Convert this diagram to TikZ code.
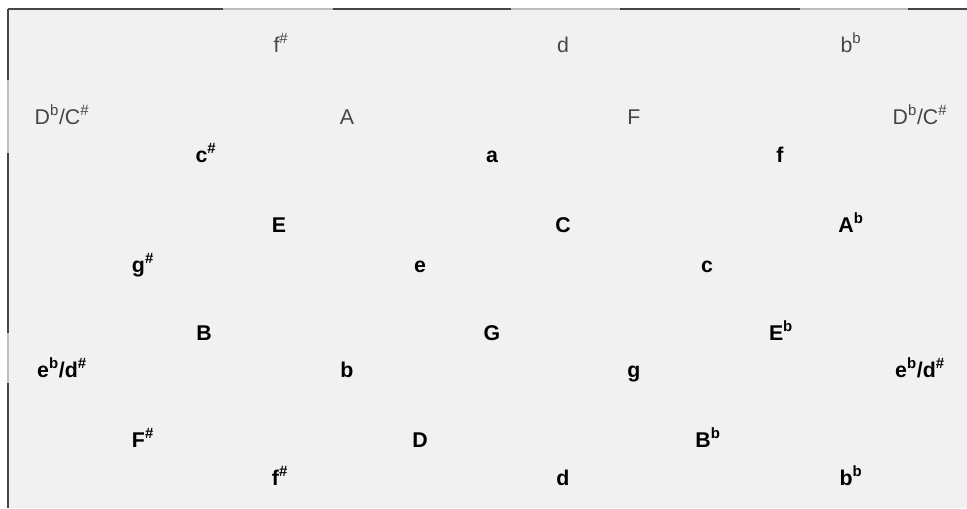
\documentclass[tikz,border=0pt]{standalone}
\usepackage{fontspec}
\setmainfont{Liberation Sans}
\usepackage{xcolor}
\usetikzlibrary{positioning}
\definecolor{panelgray}{RGB}{241,241,241}
\definecolor{edgedark}{RGB}{70,70,70}
\definecolor{edgelight}{RGB}{190,190,190}
\definecolor{fadedtext}{RGB}{70,70,70}

\newcommand{\fl}[1]{#1\textsuperscript{b}}
\newcommand{\sh}[1]{#1\textsuperscript{\#}}

\begin{document}
\begin{tikzpicture}[
  x=0.75pt, y=-0.75pt,
  faded/.style={anchor=base, inner sep=0pt, text=fadedtext, font=\fontsize{16}{18}\selectfont},
  chord/.style={anchor=base, inner sep=0pt, text=black, font=\fontsize{16}{18}\selectfont\bfseries},
  darkedge/.style={edgedark, line width=1.5pt},
  lightedge/.style={edgelight, line width=1pt}
]

% Panel
\useasboundingbox (0,0) rectangle (967,508);
\fill[white] (0,0) rectangle (967,508);
\fill[panelgray] (8,9) rectangle (967,508);

% Frame (top and left only)
\draw[darkedge] (8,9) -- (223,9);
\draw[lightedge] (223,9) -- (333,9);
\draw[darkedge] (333,9) -- (511,9);
\draw[lightedge] (511,9) -- (620,9);
\draw[darkedge] (620,9) -- (800,9);
\draw[lightedge] (800,9) -- (908,9);
\draw[darkedge] (908,9) -- (967,9);
\draw[darkedge] (8,9) -- (8,80);
\draw[lightedge] (8,80) -- (8,153);
\draw[darkedge] (8,153) -- (8,333);
\draw[lightedge] (8,333) -- (8,383);
\draw[darkedge] (8,383) -- (8,508);

% Repeated rows (faded)
\node[faded] (fs0) at (281,52) {\sh{f}};
\node[faded] (d0) at (563,52) {d};
\node[faded] (bb0) at (851,52) {\fl{b}};
\node[faded] (dbL) at (62,124) {\fl{D}/\sh{C}};
\node[faded] (A0) at (347,124) {A};
\node[faded] (F0) at (634,124) {F};
\node[faded] (dbR) at (920,124) {\fl{D}/\sh{C}};

% Row 1
\node[chord] (cs) at (206,162) {\sh{c}};
\node[chord] (a) at (492,162) {a};
\node[chord] (f) at (780,162) {f};

% Row 2
\node[chord] (E) at (279,232) {E};
\node[chord] (C) at (563,232) {C};
\node[chord] (Ab) at (851,232) {\fl{A}};

% Row 3
\node[chord] (gs) at (143,272) {\sh{g}};
\node[chord] (e) at (420,272) {e};
\node[chord] (c) at (707,272) {c};

% Row 4
\node[chord] (B) at (204,340) {B};
\node[chord] (G) at (492,340) {G};
\node[chord] (Eb) at (781,340) {\fl{E}};

% Row 5
\node[chord] (ebL) at (62,377) {\fl{e}/\sh{d}};
\node[chord] (b) at (347,377) {b};
\node[chord] (g) at (634,377) {g};
\node[chord] (ebR) at (920,377) {\fl{e}/\sh{d}};

% Row 6
\node[chord] (Fs) at (143,447) {\sh{F}};
\node[chord] (D) at (420,447) {D};
\node[chord] (Bb) at (708,447) {\fl{B}};

% Row 7
\node[chord] (fs) at (280,485) {\sh{f}};
\node[chord] (d) at (563,485) {d};
\node[chord] (bb) at (851,485) {\fl{b}};

\end{tikzpicture}
\end{document}
